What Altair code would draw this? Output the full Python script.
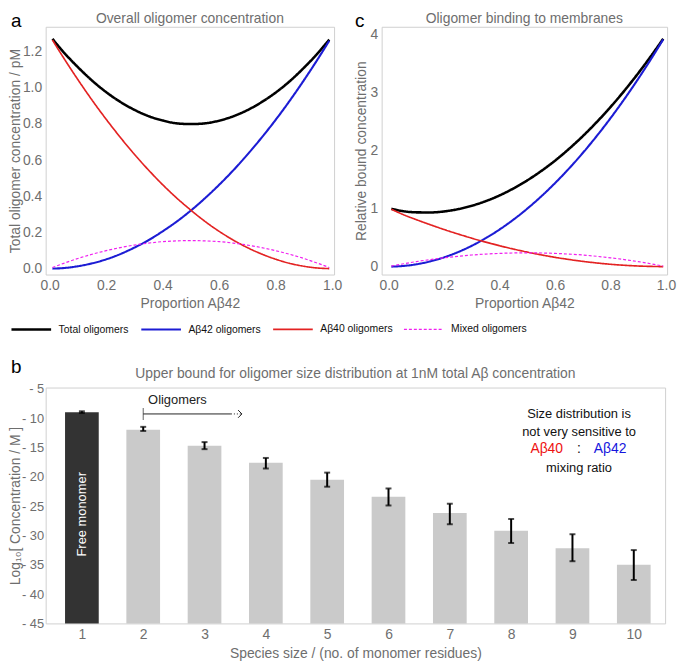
import altair as alt
import pandas as pd

# ---------------- data ----------------
x_prop = [0.01, 0.05, 0.10, 0.15, 0.20, 0.25, 0.30, 0.35, 0.40, 0.45, 0.50,
          0.55, 0.60, 0.65, 0.70, 0.75, 0.80, 0.85, 0.90, 0.95, 0.99]

# panel a: overall oligomer concentration (pM)
a_total = [1.270, 1.196, 1.114, 1.040, 0.976, 0.922, 0.878, 0.843, 0.819, 0.803, 0.799,
           0.803, 0.818, 0.842, 0.876, 0.920, 0.973, 1.036, 1.110, 1.192, 1.266]
a_ab42 = [0.000, 0.003, 0.013, 0.029, 0.051, 0.080, 0.116, 0.157, 0.206, 0.260, 0.321,
          0.389, 0.463, 0.543, 0.630, 0.723, 0.822, 0.928, 1.041, 1.160, 1.260]
a_ab40 = [1.264, 1.164, 1.045, 0.932, 0.826, 0.726, 0.632, 0.545, 0.464, 0.390, 0.323,
          0.261, 0.206, 0.158, 0.116, 0.081, 0.052, 0.029, 0.013, 0.003, 0.000]
a_mixed = [0.006, 0.029, 0.056, 0.079, 0.099, 0.116, 0.130, 0.141, 0.149, 0.153, 0.155,
           0.153, 0.149, 0.141, 0.130, 0.116, 0.099, 0.079, 0.056, 0.029, 0.006]

# panel c: relative bound concentration
c_total = [0.999, 0.958, 0.936, 0.934, 0.952, 0.991, 1.050, 1.129, 1.228, 1.348, 1.488,
           1.648, 1.828, 2.029, 2.250, 2.491, 2.752, 3.034, 3.336, 3.658, 3.929]
c_ab42 = [0.000, 0.010, 0.040, 0.090, 0.160, 0.250, 0.360, 0.490, 0.640, 0.810, 1.000,
          1.210, 1.440, 1.690, 1.960, 2.250, 2.560, 2.890, 3.240, 3.610, 3.920]
c_ab40 = [0.990, 0.903, 0.810, 0.723, 0.640, 0.563, 0.490, 0.423, 0.360, 0.303, 0.250,
          0.203, 0.160, 0.123, 0.090, 0.063, 0.040, 0.023, 0.010, 0.003, 0.000]
c_mixed = [0.009, 0.045, 0.086, 0.121, 0.152, 0.178, 0.200, 0.216, 0.228, 0.235, 0.238,
           0.235, 0.228, 0.216, 0.200, 0.178, 0.152, 0.121, 0.086, 0.045, 0.009]

series_names = ["Total oligomers", "Aβ42 oligomers", "Aβ40 oligomers", "Mixed oligomers"]

# panel b: log10 concentration by species size
species = [1, 2, 3, 4, 5, 6, 7, 8, 9, 10]
log_conc = [-9.0, -12.0, -14.7, -17.6, -20.5, -23.4, -26.2, -29.2, -32.2, -35.0]
err_hi = [-8.85, -11.5, -14.1, -16.8, -19.3, -22.0, -24.6, -27.2, -29.8, -32.5]
err_lo = [-9.15, -12.2, -15.3, -18.6, -21.7, -24.9, -28.1, -31.3, -34.4, -37.6]
y_floor = -45
y_ticks = [-45, -40, -35, -30, -25, -20, -15, -10, -5]

note_lines = ["Size distribution is", "not very sensitive to", "mixing ratio"]
note_ratio = ["Aβ40", ":", "Aβ42"]

# ---------------- styling ----------------
FONT = "Liberation Sans"
GREY = "#6e6e6e"
series_colors = ["#000000", "#1c1cd4", "#e32222", "#f020f0"]
series_dash = [[1, 0], [1, 0], [1, 0], [3, 2]]
series_width = [2.6, 1.2, 1.2, 1.2]

LEG = alt.Legend(orient="none", legendX=-36, legendY=284, direction="horizontal",
                 columns=4, title=None, symbolType="stroke", symbolSize=1600,
                 labelFont=FONT, labelFontSize=10.5, labelColor="#111111",
                 columnPadding=8, labelOffset=6, padding=0)


def long_df(total, ab42, ab40, mixed):
    rows = []
    for name, vals in zip(series_names, [total, ab42, ab40, mixed]):
        for xv, yv in zip(x_prop, vals):
            rows.append({"x": xv, "y": yv, "series": name})
    return pd.DataFrame(rows)


def heading(title, width, letter, letter_x, letter_y, title_y):
    t = alt.Chart(pd.DataFrame({"t": [title]})).mark_text(
        font=FONT, fontSize=14, color=GREY, align="center", baseline="middle"
    ).encode(text="t:N", x=alt.value(width / 2), y=alt.value(title_y))
    l = alt.Chart(pd.DataFrame({"t": [letter]})).mark_text(
        font=FONT, fontSize=19, color="#000000", align="left", baseline="top"
    ).encode(text="t:N", x=alt.value(letter_x), y=alt.value(letter_y))
    return [t, l]


def line_panel(df, title, ytitle, ydomain, yvalues, yfmt, xdomain, width, letter, letter_x, ytitle_x):
    yaxis = alt.Axis(values=yvalues, format=yfmt, title=ytitle, labelPadding=4, titlePadding=2)
    if ytitle_x is not None:
        yaxis = alt.Axis(values=yvalues, format=yfmt, title=ytitle, labelPadding=4,
                         titleX=ytitle_x, titleBaseline="middle", titleAlign="center")
    lines = alt.Chart(df).mark_line(interpolate="monotone").encode(
        x=alt.X("x:Q", scale=alt.Scale(domain=xdomain, nice=False, zero=False),
                axis=alt.Axis(values=[0, 0.2, 0.4, 0.6, 0.8, 1.0], format=".1f",
                              title="Proportion Aβ42")),
        y=alt.Y("y:Q", scale=alt.Scale(domain=ydomain, nice=False, zero=False), axis=yaxis),
        color=alt.Color("series:N", scale=alt.Scale(domain=series_names, range=series_colors), legend=LEG),
        strokeDash=alt.StrokeDash("series:N", scale=alt.Scale(domain=series_names, range=series_dash), legend=LEG),
        strokeWidth=alt.StrokeWidth("series:N", scale=alt.Scale(domain=series_names, range=series_width), legend=LEG),
        order=alt.Order("x:Q"),
    )
    return alt.layer(lines, *heading(title, width, letter, letter_x, -15, -8)).properties(
        width=width, height=250)


panel_a = line_panel(long_df(a_total, a_ab42, a_ab40, a_mixed), "Overall oligomer concentration",
                     "Total oligomer concentration / pM", [-0.033, 1.337],
                     [0, 0.2, 0.4, 0.6, 0.8, 1.0, 1.2], ".1f", [-0.014, 1.007], 291, "a", -35, -30)
panel_c = line_panel(long_df(c_total, c_ab42, c_ab40, c_mixed), "Oligomer binding to membranes",
                     "Relative bound concentration", [-0.137, 4.137],
                     [0, 1, 2, 3, 4], "d", [-0.025, 1.004], 288, "c", -27, None)

# ---------------- panel b ----------------
bdf = pd.DataFrame({"size": species, "val": log_conc, "base": [y_floor] * len(species)})
err_df = pd.DataFrame({"size": species, "val": err_hi, "lo": err_lo})
caps_df = pd.DataFrame({"size": species + species, "val": err_hi + err_lo})

XSC = alt.Scale(domain=[0.49, 10.43], nice=False, zero=False)
XB = alt.X("size:Q", scale=XSC,
           axis=alt.Axis(values=species, format="d", title="Species size / (no. of monomer residues)",
                         titlePadding=5))
YB = alt.Y("val:Q", scale=alt.Scale(domain=[-45, -4.8], nice=False, zero=False),
           axis=alt.Axis(values=y_ticks, labelOverlap=False, labelFontSize=13,
                         labelExpr="'- ' + abs(datum.value)", title="Log₁₀[ Concentration / M ]",
                         labelPadding=2, titleX=-30, titleBaseline="middle", titleAlign="center"))

bars = alt.Chart(bdf).mark_bar(width=34).encode(
    x=XB, y=YB, y2="base:Q",
    fill=alt.condition("datum.size == 1", alt.value("#333333"), alt.value("#cacaca")),
)
err = alt.Chart(err_df).mark_rule(color="black", strokeWidth=2).encode(x=XB, y=YB, y2="lo:Q")
caps = alt.Chart(caps_df).mark_tick(orient="horizontal", size=6, thickness=2, color="black").encode(
    x=XB, y=YB)

mono = alt.Chart(pd.DataFrame({"size": [1], "val": [-26.4], "t": ["Free monomer"]})).mark_text(
    angle=270, color="white", font=FONT, fontSize=13).encode(x=XB, y=YB, text="t:N")

arrow_df = pd.DataFrame({"size": [2.0], "size2": [3.43], "size3": [3.61], "val": [-9.3]})
arrow = alt.Chart(arrow_df).mark_rule(color="#222222", strokeWidth=1).encode(x=XB, x2="size2:Q", y=YB)
arrow_dot = alt.Chart(arrow_df).mark_rule(color="#222222", strokeWidth=1, strokeDash=[1, 2]).encode(
    x=alt.X("size2:Q", scale=XSC), x2="size3:Q", y=YB)
arrow_start = alt.Chart(arrow_df).mark_tick(orient="vertical", size=12, thickness=1, color="#222222").encode(
    x=XB, y=YB)
arrow_head = alt.Chart(arrow_df).mark_point(shape="M -1 -1 L 0 0 L -1 1", filled=False, size=60,
                                            color="#222222", strokeWidth=1, opacity=1).encode(
    x=alt.X("size3:Q", scale=XSC), y=YB)
olig_txt = alt.Chart(pd.DataFrame({"size": [2.08], "val": [-7.0], "t": ["Oligomers"]})).mark_text(
    align="left", font=FONT, fontSize=13, color="#222222").encode(x=XB, y=YB, text="t:N")

note_df = pd.DataFrame({"size": [9.107, 9.107, 9.107], "val": [-9.4, -12.4, -18.5], "t": note_lines})
note = alt.Chart(note_df).mark_text(font=FONT, fontSize=13, color="#111111").encode(x=XB, y=YB, text="t:N")
ratio_df = pd.DataFrame({"size": [8.58, 9.107, 9.615], "val": [-15.3, -15.3, -15.3], "t": note_ratio})
r40 = alt.Chart(ratio_df.iloc[[0]]).mark_text(font=FONT, fontSize=14, color="#ee1111").encode(x=XB, y=YB, text="t:N")
rcol = alt.Chart(ratio_df.iloc[[1]]).mark_text(font=FONT, fontSize=14, color="#111111").encode(x=XB, y=YB, text="t:N")
r42 = alt.Chart(ratio_df.iloc[[2]]).mark_text(font=FONT, fontSize=14, color="#1515dd").encode(x=XB, y=YB, text="t:N")

panel_b = alt.layer(bars, err, caps, mono, arrow, arrow_dot, arrow_start, arrow_head,
                    olig_txt, note, r40, rcol, r42,
                    *heading("Upper bound for oligomer size distribution at 1nM total Aβ concentration",
                             625, "b", -35, -30, -14)).properties(width=625, height=238)

top = alt.hconcat(panel_a, panel_c, spacing=10)
chart = alt.vconcat(top, panel_b, spacing=46).properties(padding=0).configure_view(
    stroke="#cfcfcf", strokeWidth=1
).configure_axis(
    labelFont=FONT, labelFontSize=14, labelColor=GREY, titleFont=FONT, titleFontSize=14,
    titleColor=GREY, titleFontWeight="normal", ticks=False, domain=False, grid=False,
    labelPadding=4, titlePadding=4, labelOverlap=False,
)

chart.save("out.html", embed_options={"renderer": "svg", "actions": False})
